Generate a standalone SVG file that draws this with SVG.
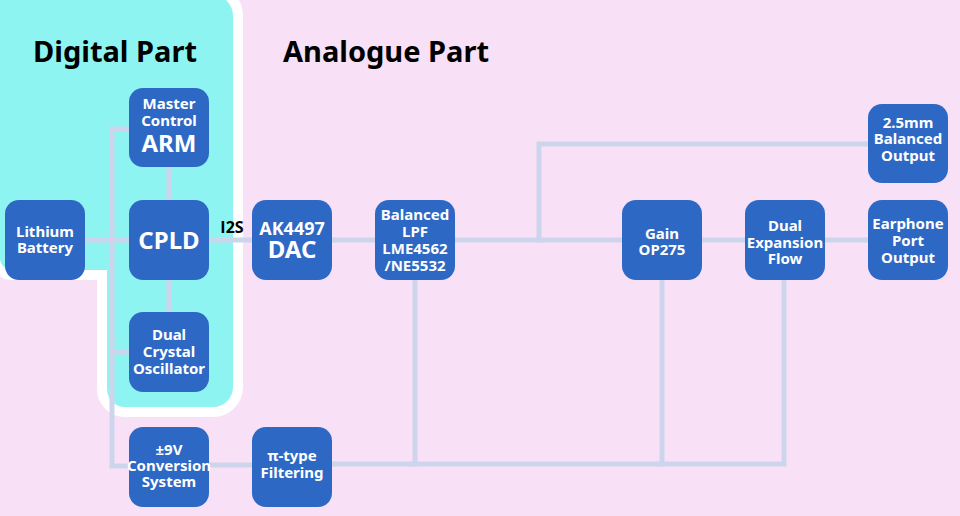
<svg xmlns="http://www.w3.org/2000/svg" width="960" height="516" viewBox="0 0 960 516">
<style>
.bg{fill:#f8e0f7}
.zone{fill:#8ef4f2;stroke:#ffffff;stroke-width:20;paint-order:stroke;stroke-linejoin:miter}
.box{fill:#2d68c4}
.t{font-family:"Noto Sans","Liberation Sans",sans-serif;font-weight:bold;fill:#ffffff;text-anchor:middle;font-size:15px}
.big{font-size:24px}
.mid{font-size:18px}
.title{font-family:"Noto Sans","Liberation Sans",sans-serif;font-weight:bold;fill:#000000;font-size:29px;text-anchor:middle}
.lbl{font-family:"Open Sans","Liberation Sans",sans-serif;font-weight:bold;fill:#000000;font-size:16px;text-anchor:middle}
.wire{fill:none;stroke:#cdd5ec;stroke-width:5;stroke-linecap:square;stroke-linejoin:miter}
</style>
<rect class="bg" x="0" y="0" width="960" height="516"/>
<path class="zone" d="M -20,-6 H 211 A 22 22 0 0 1 233 16 V 387 A 20 20 0 0 1 213 407 H 125 A 18 18 0 0 1 107 389 V 270 H 12 A 12 12 0 0 1 0 258 V -6 Z"/>
<text class="title" x="115" y="62">Digital Part</text>
<text class="title" x="386" y="62">Analogue Part</text>
<g id="connectors">
<path class="wire" d="M 85,240 H 129"/>
<path class="wire" d="M 129,129 H 112 V 466 H 129"/>
<path class="wire" d="M 112,352 H 129"/>
<path class="wire" d="M 169,167 V 200"/>
<path class="wire" d="M 169,280 V 312"/>
<path class="wire" d="M 209,240 H 252"/>
<path class="wire" d="M 332,240 H 868"/>
<path class="wire" d="M 539,240 V 144 H 868"/>
<path class="wire" d="M 209,465 H 252"/>
<path class="wire" d="M 332,464 H 784 V 280"/>
<path class="wire" d="M 415,280 V 464"/>
<path class="wire" d="M 662,280 V 464"/>
<text class="lbl" x="232" y="233">I2S</text>
</g>
<g id="battery"><rect class="box" x="5" y="200" width="80" height="80" rx="14"/><text class="t" x="45" y="237">Lithium<tspan x="45" dy="16">Battery</tspan></text></g>
<g id="arm"><rect class="box" x="129" y="88" width="80" height="79" rx="14"/><text class="t" x="169" y="109">Master<tspan x="169" dy="17">Control</tspan><tspan class="big" x="169" dy="26">ARM</tspan></text></g>
<g id="cpld"><rect class="box" x="129" y="200" width="80" height="80" rx="14"/><text class="t big" x="169" y="249">CPLD</text></g>
<g id="oscillator"><rect class="box" x="129" y="312" width="80" height="80" rx="14"/><text class="t" x="169" y="340">Dual<tspan x="169" dy="17">Crystal</tspan><tspan x="169" dy="17">Oscillator</tspan></text></g>
<g id="power"><rect class="box" x="129" y="427" width="80" height="80" rx="14"/><text class="t" x="169" y="455">±9V<tspan x="169" dy="16">Conversion</tspan><tspan x="169" dy="16">System</tspan></text></g>
<g id="filter"><rect class="box" x="252" y="427" width="80" height="80" rx="14"/><text class="t" x="292" y="461">π-type<tspan x="292" dy="17">Filtering</tspan></text></g>
<g id="dac"><rect class="box" x="252" y="200" width="80" height="80" rx="14"/><text class="t mid" x="292" y="235">AK4497<tspan class="big" x="292" dy="23">DAC</tspan></text></g>
<g id="lpf"><rect class="box" x="375" y="200" width="80" height="80" rx="14"/><text class="t" x="415" y="220">Balanced<tspan x="415" dy="17">LPF</tspan><tspan x="415" dy="17">LME4562</tspan><tspan x="415" dy="17">/NE5532</tspan></text></g>
<g id="gain"><rect class="box" x="622" y="200" width="80" height="80" rx="14"/><text class="t" x="662" y="239">Gain<tspan x="662" dy="16">OP275</tspan></text></g>
<g id="expansion"><rect class="box" x="745" y="200" width="80" height="80" rx="14"/><text class="t" x="785" y="231">Dual<tspan x="785" dy="17">Expansion</tspan><tspan x="785" dy="16">Flow</tspan></text></g>
<g id="earphone"><rect class="box" x="868" y="200" width="80" height="80" rx="14"/><text class="t" x="908" y="229">Earphone<tspan x="908" dy="17">Port</tspan><tspan x="908" dy="17">Output</tspan></text></g>
<g id="balanced-out"><rect class="box" x="868" y="104" width="80" height="79" rx="14"/><text class="t" x="908" y="128">2.5mm<tspan x="908" dy="16">Balanced</tspan><tspan x="908" dy="17">Output</tspan></text></g>
</svg>
